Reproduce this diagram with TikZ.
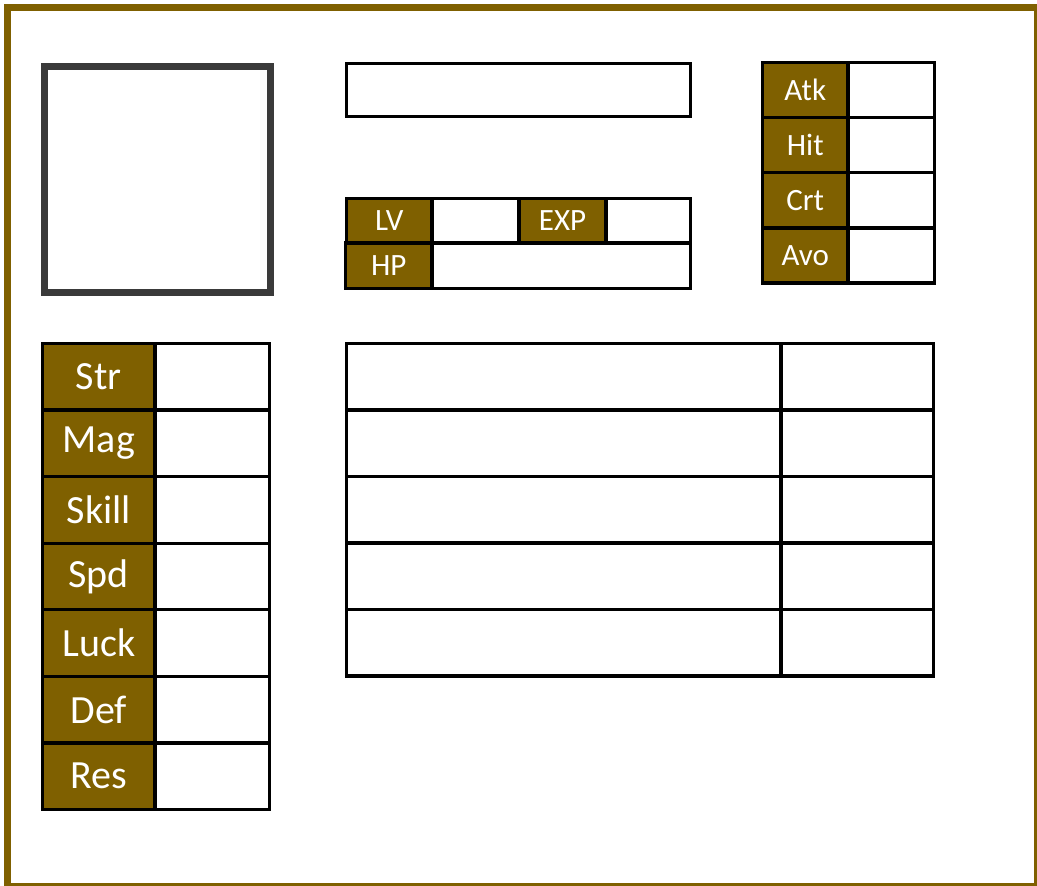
\documentclass[tikz,border=0pt]{standalone}
\usepackage{fontspec}
\setmainfont{Carlito}
\definecolor{gold}{HTML}{7F6000}
\definecolor{portraitframe}{HTML}{3A3A3A}
\begin{document}
\begin{tikzpicture}[x=1pt,y=-1pt,
  cell/.style={draw=black,line width=3.4pt,rectangle,inner sep=0pt,outer sep=0pt,anchor=north west},
  lab/.style={cell,fill=gold,text=white},
  smallfont/.style={font=\fontsize{31}{31}\selectfont},
  bigfont/.style={font=\fontsize{40}{40}\selectfont},
]
\useasboundingbox (0,0) rectangle (1037,886);
\node[draw=gold,line width=7pt,rectangle,inner sep=0pt,anchor=north west,minimum width=1030pt,minimum height=879pt] (page) at (3.5,3.5) {};
% portrait
\node[draw=portraitframe,line width=6.5pt,rectangle,inner sep=0pt,anchor=north west,minimum width=226pt,minimum height=226pt] (portrait) at (41,63) {};
% name
\node[cell,minimum width=344pt,minimum height=53pt] (name) at (346.5,63.5) {};
% LV / EXP / HP
\node[lab,smallfont,minimum width=85.5pt,minimum height=44.5pt] (lv) at (346.5,198.5) {LV};
\node[cell,minimum width=87pt,minimum height=44.5pt] (lvval) at (432,198.5) {};
\node[lab,smallfont,minimum width=87pt,minimum height=44.5pt] (exp) at (519,198.5) {EXP};
\node[cell,minimum width=84.5pt,minimum height=44.5pt] (expval) at (606,198.5) {};
\node[lab,smallfont,minimum width=86.5pt,minimum height=45.5pt] (hp) at (345.5,243) {HP};
\node[cell,minimum width=258.5pt,minimum height=45.5pt] (hpval) at (432,243) {};
% combat stats
\foreach \t [count=\i from 0] in {Atk,Hit,Crt,Avo}{
  \node[lab,smallfont,minimum width=85.5pt,minimum height=55.125pt] (c\i) at (762.5,62.5+55.125*\i) {\t};
  \node[cell,minimum width=86.5pt,minimum height=55.125pt] (cv\i) at (848,62.5+55.125*\i) {};
}
% base stats
\foreach \t [count=\i from 0] in {Str,Mag,Skill,Spd,Luck,Def,Res}{
  \node[lab,bigfont,minimum width=112.5pt,minimum height=66.57pt] (s\i) at (42.5,343.5+66.57*\i) {\t};
  \node[cell,minimum width=114.5pt,minimum height=66.57pt] (sv\i) at (155,343.5+66.57*\i) {};
}
% items
\foreach \i in {0,...,4}{
  \node[cell,minimum width=434.5pt,minimum height=66.5pt] (it\i) at (346.5,343.5+66.5*\i) {};
  \node[cell,minimum width=152.5pt,minimum height=66.5pt] (iu\i) at (781,343.5+66.5*\i) {};
}
\end{tikzpicture}
\end{document}
